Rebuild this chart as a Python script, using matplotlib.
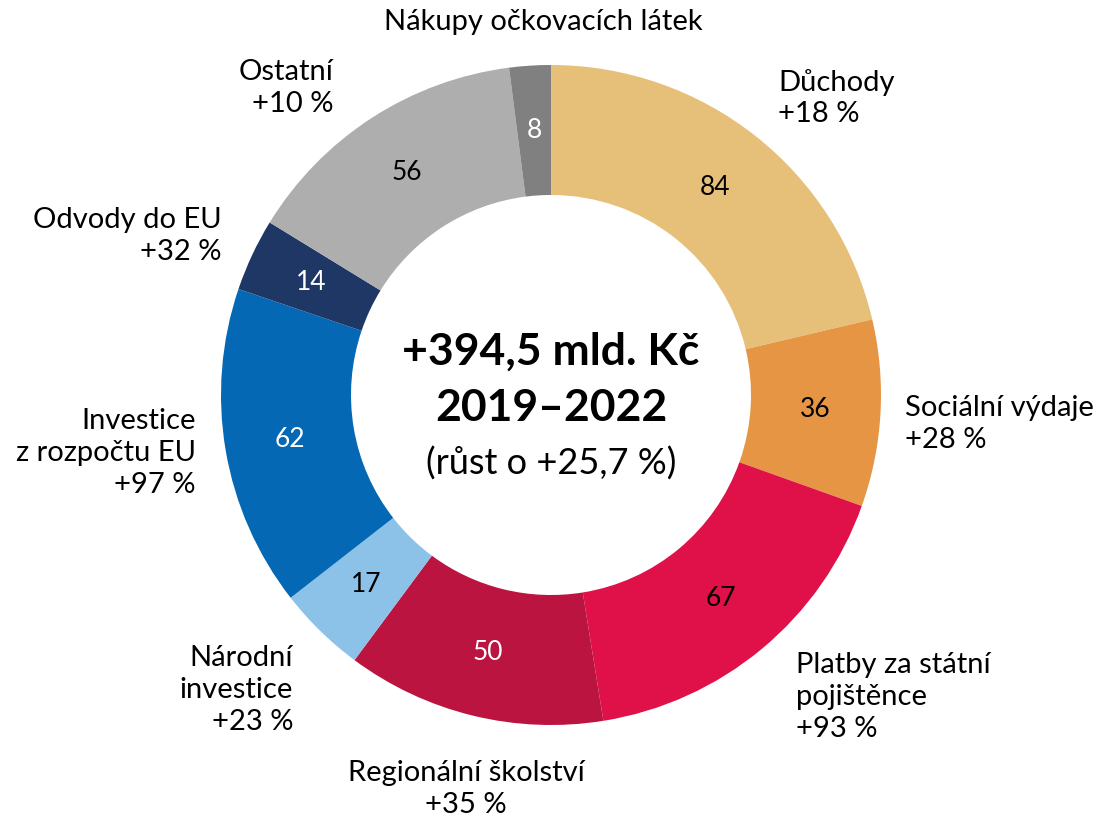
import matplotlib.pyplot as plt
import numpy as np

plt.rcParams['font.family'] = ['Lato', 'DejaVu Sans']

# Data
categories = ['Důchody', 'Sociální výdaje', 'Platby za státní pojištěnce',
              'Regionální školství', 'Národní investice', 'Investice z rozpočtu EU',
              'Odvody do EU', 'Ostatní', 'Nákupy očkovacích látek']
values = [84, 36, 67, 50, 17, 62, 14, 56, 8]
growth = ['+18 %', '+28 %', '+93 %', '+35 %', '+23 %', '+97 %', '+32 %', '+10 %', '']
colors = ['#E6C079', '#E69545', '#E01048', '#BB1440', '#8DC2E8',
          '#0468B4', '#1F3765', '#AEAEAE', '#808080']
value_colors = ['black', 'black', 'black', 'white', 'black',
                'white', 'white', 'black', 'white']

W, H = 1103, 816
fig = plt.figure(figsize=(W / 100, H / 100), dpi=100)
ax = fig.add_axes([0, 0, 1, 1])

cx, cy = 551, H - 395
R = 330
wedges, _ = ax.pie(values, center=(cx, cy), radius=R, startangle=90,
                   counterclock=False, colors=colors,
                   wedgeprops=dict(width=130, linewidth=0))
ax.set_xlim(0, W)
ax.set_ylim(0, H)
ax.set_aspect('equal')
ax.axis('off')

# values inside the ring
for w, v, c in zip(wedges, values, value_colors):
    ang = np.deg2rad((w.theta1 + w.theta2) / 2)
    ax.text(cx + 265 * np.cos(ang), cy + 265 * np.sin(ang), str(v),
            ha='center', va='center', fontsize=19, color=c)

# outer labels (x, y from top-left in pixels, alignment)
label_pos = [
    (778, 98, 'left'),
    (905, 424, 'left'),
    (796, 697, 'left'),
    (466, 789, 'center'),
    (293, 690, 'right'),
    (196, 453, 'right'),
    (222, 236, 'right'),
    (333, 88, 'right'),
    (543, 22, 'center'),
]
label_text = ['Důchody', 'Sociální výdaje', 'Platby za státní\npojištěnce',
              'Regionální školství', 'Národní\ninvestice', 'Investice\nz rozpočtu EU',
              'Odvody do EU', 'Ostatní', 'Nákupy očkovacích látek']
for (x, y, ha), t, g in zip(label_pos, label_text, growth):
    s = t + ('\n' + g if g else '')
    ax.text(x, H - y, s, ha=ha, va='center', fontsize=21,
            linespacing=1.28, multialignment=ha, color='black')

# center text
ax.text(cx, H - 352, '+394,5 mld. Kč', ha='center', va='center',
        fontsize=32, fontweight='bold')
ax.text(cx, H - 408, '2019–2022', ha='center', va='center',
        fontsize=32, fontweight='bold')
ax.text(cx, H - 464, '(růst o +25,7 %)', ha='center', va='center', fontsize=26)

fig.savefig('out.png', dpi=100, facecolor='white')
